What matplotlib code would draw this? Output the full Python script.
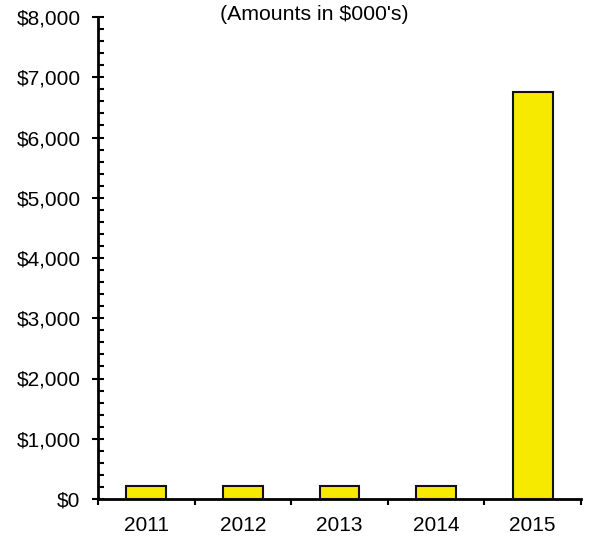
import matplotlib
matplotlib.use("Agg")
import matplotlib.pyplot as plt
from matplotlib.ticker import MultipleLocator, FuncFormatter, FixedLocator
import numpy as np

plt.rcParams['font.family'] = ['Liberation Sans', 'DejaVu Sans']

# data (amounts in $000's)
years = ["2011", "2012", "2013", "2014", "2015"]
amounts = [215, 216, 216, 222, 6760]

bar_color = "#f5ea00"

fig = plt.figure(figsize=(5.89, 5.37), dpi=100)
ax = fig.add_axes([98 / 589, 38 / 537, (581 - 98) / 589, (499 - 17) / 537])

x = np.arange(len(years))
ax.bar(x, amounts, width=0.41, color=bar_color, edgecolor="#111111", linewidth=1.5, zorder=3)

ax.set_xlim(-0.5, len(years) - 0.5)
ax.set_ylim(0, 8000)

# y axis: majors cross the spine, minors point inside
ax.yaxis.set_major_locator(MultipleLocator(1000))
ax.yaxis.set_minor_locator(MultipleLocator(200))
ax.yaxis.set_major_formatter(FuncFormatter(lambda v, p: "${:,.0f}".format(v)))
ax.tick_params(axis="y", which="major", direction="inout", length=9, width=1.5,
               labelsize=15, pad=8)
ax.tick_params(axis="y", which="minor", direction="in", length=4.5, width=1.5)

# x axis: ticks at category borders, labels in the middle
ax.xaxis.set_major_locator(FixedLocator(np.arange(len(years) + 1) - 0.5))
ax.xaxis.set_major_formatter(FuncFormatter(lambda v, p: ""))
ax.xaxis.set_minor_locator(FixedLocator(x))
ax.set_xticks(x, years, minor=True)
ax.tick_params(axis="x", which="major", direction="out", length=4.5, width=1.5)
ax.tick_params(axis="x", which="minor", length=0, labelsize=15, pad=12)

for side in ["top", "right"]:
    ax.spines[side].set_visible(False)
for side in ["left", "bottom"]:
    ax.spines[side].set_linewidth(2)

fig.text(314 / 589, 1 - 14 / 537, "(Amounts in $000's)", ha="center", va="center", fontsize=15.3)

fig.savefig("out.png", dpi=100)
